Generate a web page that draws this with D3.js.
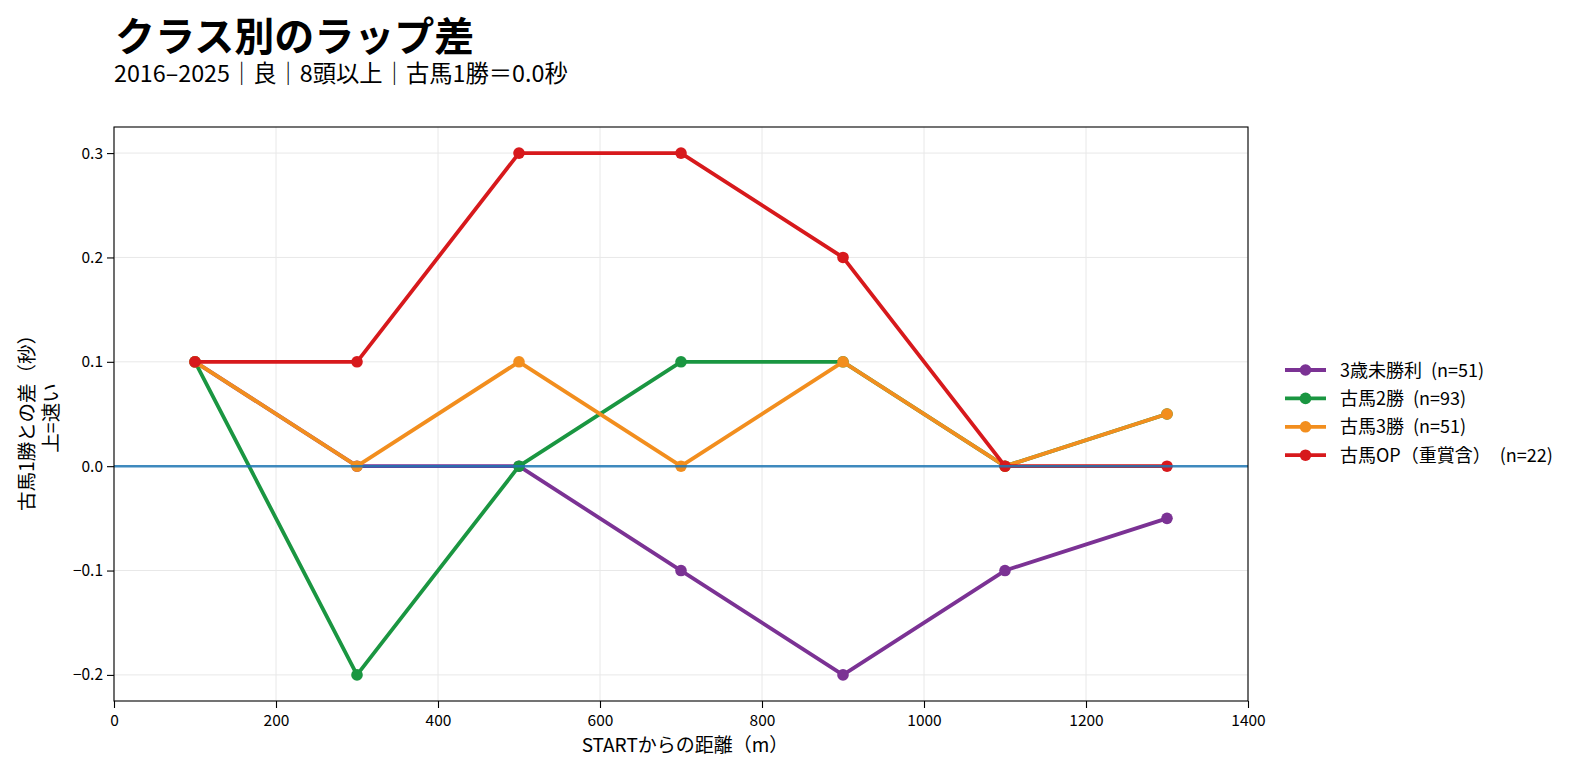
<!DOCTYPE html>
<html>
<head>
<meta charset="utf-8">
<script src="https://cdn.jsdelivr.net/npm/d3@7"></script>
<style>
  body { margin: 0; background: #fff; }
  text { font-family: "Noto Sans CJK JP", "Noto Sans", sans-serif; fill: #000; }
</style>
</head>
<body>
<div id="root"></div>
<script>
// data
var distances = [100, 300, 500, 700, 900, 1100, 1300];
var classNames = ['3歳未勝利', '古馬2勝', '古馬3勝', '古馬OP（重賞含）'];
var classCounts = [51, 93, 51, 22];
var diffMaiden = [0.1, 0, 0, -0.1, -0.2, -0.1, -0.05];
var diff2win = [0.1, -0.2, 0, 0.1, 0.1, 0, 0.05];
var diff3win = [0.1, 0, 0.1, 0, 0.1, 0, 0.05];
var diffOpen = [0.1, 0.1, 0.3, 0.3, 0.2, 0, 0];
var xTicks = [0, 200, 400, 600, 800, 1000, 1200, 1400];
var yTicks = [-0.2, -0.1, 0.0, 0.1, 0.2, 0.3];

var colors = ['#7b3294', '#1a9641', '#f28e1e', '#d7191c'];
var seriesVals = [diffMaiden, diff2win, diff3win, diffOpen];

var w = 1580, h = 775;
var plotL = 114, plotR = 1248, plotT = 127, plotB = 701;

var svg = d3.select('#root').append('svg')
  .attr('width', w)
  .attr('height', h);

var x = d3.scaleLinear().domain([0, 1400]).range([plotL, plotR]);
var y = d3.scaleLinear().domain([-0.225, 0.325]).range([plotB, plotT]);

// grid
var grid = svg.append('g').attr('id', 'grid');
grid.selectAll('.gx')
  .data(xTicks)
  .enter()
  .append('line')
  .attr('x1', function(d) { return x(d); })
  .attr('x2', function(d) { return x(d); })
  .attr('y1', plotT)
  .attr('y2', plotB)
  .attr('stroke', '#e8e8e8')
  .attr('stroke-width', 1);
grid.selectAll('.gy')
  .data(yTicks)
  .enter()
  .append('line')
  .attr('x1', plotL)
  .attr('x2', plotR)
  .attr('y1', function(d) { return y(d); })
  .attr('y2', function(d) { return y(d); })
  .attr('stroke', '#e8e8e8')
  .attr('stroke-width', 1);

// series
var line = d3.line()
  .x(function(d, i) { return x(distances[i]); })
  .y(function(d) { return y(d); });

seriesVals.forEach(function(vals, k) {
  var g = svg.append('g').attr('class', 'series');
  g.append('path')
    .datum(vals)
    .attr('d', line)
    .attr('fill', 'none')
    .attr('stroke', colors[k])
    .attr('stroke-width', 3.8)
    .attr('stroke-linejoin', 'round');
  g.selectAll('circle')
    .data(vals)
    .enter()
    .append('circle')
    .attr('cx', function(d, i) { return x(distances[i]); })
    .attr('cy', function(d) { return y(d); })
    .attr('r', 5.8)
    .attr('fill', colors[k]);
});

// zero line
svg.append('line')
  .attr('x1', plotL)
  .attr('x2', plotR)
  .attr('y1', y(0))
  .attr('y2', y(0))
  .attr('stroke', '#1f77b4')
  .attr('stroke-opacity', 0.85)
  .attr('stroke-width', 2.4);

// axes
var xAxis = d3.axisBottom(x).tickValues(xTicks).tickSize(7).tickPadding(5)
  .tickFormat(d3.format('d'));
var yAxis = d3.axisLeft(y).tickValues(yTicks).tickSize(7).tickPadding(4)
  .tickFormat(function(d) { return d3.format('.1f')(d).replace('-', '\u2212'); });

var gx = svg.append('g').attr('transform', 'translate(0,' + plotB + ')').call(xAxis);
var gy = svg.append('g').attr('transform', 'translate(' + plotL + ',0)').call(yAxis);
[gx, gy].forEach(function(g) {
  g.select('.domain').remove();
  g.selectAll('line').attr('stroke', '#000').attr('stroke-width', 1.1);
  g.selectAll('text').attr('font-size', 15.5).attr('fill', '#000')
    .style('font-family', '"Noto Sans CJK JP", sans-serif');
});
gx.selectAll('text').attr('dy', null).attr('y', 25);

// frame
svg.append('rect')
  .attr('x', plotL)
  .attr('y', plotT)
  .attr('width', plotR - plotL)
  .attr('height', plotB - plotT)
  .attr('fill', 'none')
  .attr('stroke', '#000')
  .attr('stroke-width', 1.1);

// labels
svg.append('text')
  .attr('x', (plotL + plotR) / 2 + 4)
  .attr('y', 752)
  .attr('text-anchor', 'middle')
  .attr('font-size', 19)
  .text('STARTからの距離（m）');

var yl = svg.append('text')
  .attr('transform', 'translate(34,418) rotate(-90)')
  .attr('text-anchor', 'middle')
  .attr('font-size', 19.5);
yl.append('tspan').attr('x', 0).attr('dy', 0).text('古馬1勝との差（秒）');
yl.append('tspan').attr('x', 0).attr('dy', 24).text('上=速い');

// title
svg.append('text')
  .attr('x', 115)
  .attr('y', 51)
  .attr('font-size', 40)
  .attr('font-weight', 'bold')
  .text('クラス別のラップ差');
svg.append('text')
  .attr('x', 114)
  .attr('y', 81.5)
  .attr('font-size', 23.3)
  .text('2016–2025｜良｜8頭以上｜古馬1勝＝0.0秒');

// legend
var legend = svg.append('g').attr('id', 'legend');
var items = legend.selectAll('g')
  .data(classNames)
  .enter()
  .append('g')
  .attr('transform', function(d, i) { return 'translate(1285,' + (370 + i * 28.4) + ')'; });
items.append('line')
  .attr('x1', 0).attr('x2', 41).attr('y1', 0).attr('y2', 0)
  .attr('stroke', function(d, i) { return colors[i]; })
  .attr('stroke-width', 3.8);
items.append('circle')
  .attr('cx', 20.5).attr('cy', 0).attr('r', 5.8)
  .attr('fill', function(d, i) { return colors[i]; });
var lt = items.append('text')
  .attr('x', 55)
  .attr('y', 6.5)
  .attr('font-size', 18);
lt.append('tspan').text(function(d) { return d; });
lt.append('tspan')
  .attr('dx', 9)
  .text(function(d, i) { return '(n=' + classCounts[i] + ')'; });
</script>
</body>
</html>
